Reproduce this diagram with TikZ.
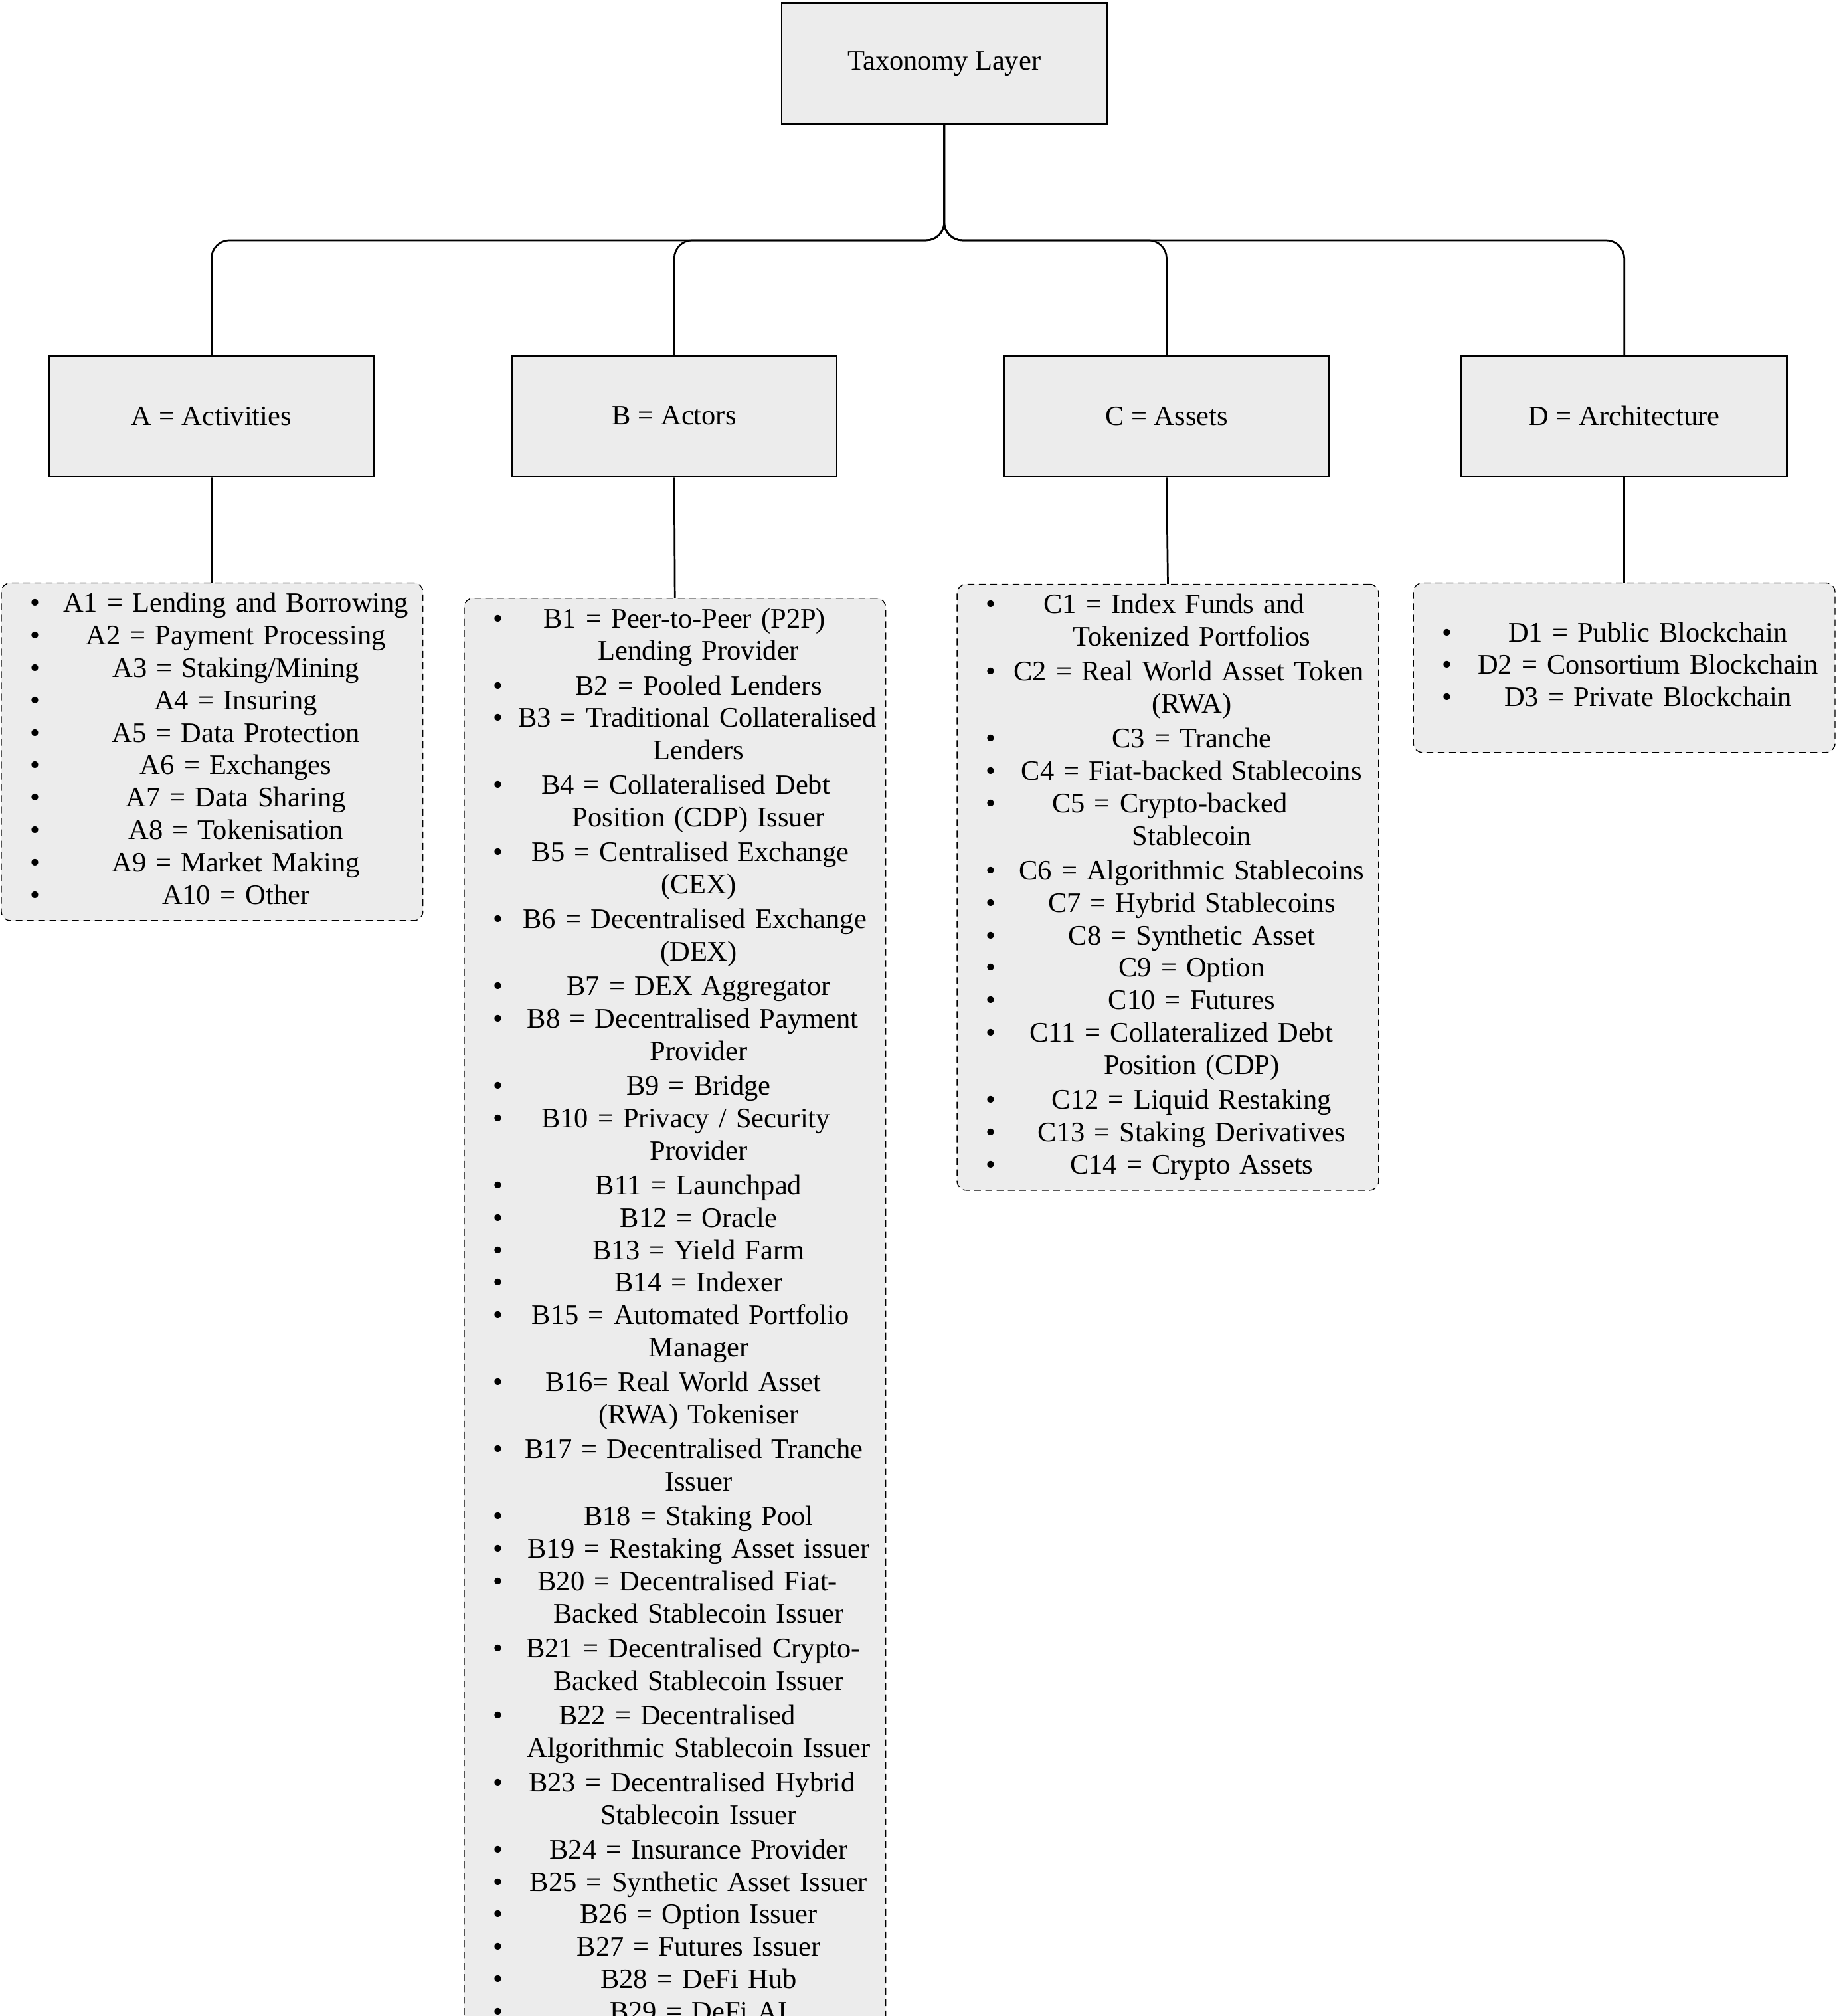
\documentclass[tikz,border=0pt]{standalone}
\usepackage{fontspec}
\setmainfont{Liberation Serif}
\usetikzlibrary{positioning}
\newcommand{\itm}[1]{\noindent\hspace*{0.45cm}\makebox[0.35cm][l]{\textbullet}\parbox[t]{5.7cm}{\centering\strut #1\strut}\par}
\newcommand{\brk}{\newline}

\begin{document}
\begin{tikzpicture}[x=0.02cm,y=-0.02cm,font=\fontsize{12.5}{14.35}\selectfont]
        \tikzstyle{layer}=[rectangle,draw,thick,fill=gray!15,minimum width=5.06cm,minimum height=1.88cm]
        \tikzstyle{items}=[rectangle,draw,densely dashed,rounded corners=4pt,fill=gray!15,inner xsep=0pt,inner ysep=3pt,anchor=north,text width=6.56cm]
        \tikzstyle{link}=[thick,rounded corners=8pt]
        \useasboundingbox (0,0) rectangle (1429,1568);

        \node [layer] (top) at (734.5,49.5) {Taxonomy Layer}; %root
        \node [layer] (act) at (164.5,323.5) {A = Activities};
        \node [layer] (act2) at (524.5,323.5) {B = Actors};
        \node [layer] (ass) at (907.5,323.5) {C = Assets};
        \node [layer] (arc) at (1263.5,323.5) {D = Architecture};

        \coordinate (bus) at (734.5,187);
        \draw [link] (top.south) -- (bus) -| (act.north);
        \draw [link] (top.south) -- (bus) -| (act2.north);
        \draw [link] (top.south) -- (bus) -| (ass.north);
        \draw [link] (top.south) -- (bus) -| (arc.north);

        \node [items] (la) at (165,453) {%
          \itm{A1 = Lending and Borrowing}
          \itm{A2 = Payment Processing}
          \itm{A3 = Staking/Mining}
          \itm{A4 = Insuring}
          \itm{A5 = Data Protection}
          \itm{A6 = Exchanges}
          \itm{A7 = Data Sharing}
          \itm{A8 = Tokenisation}
          \itm{A9 = Market Making}
          \itm{A10 = Other}};
        \node [items] (lb) at (525,465) {%
          \itm{B1 = Peer-to-Peer (P2P)\brk Lending Provider}
          \itm{B2 = Pooled Lenders}
          \itm{B3 = Traditional Collateralised\brk Lenders}
          \itm{B4 = Collateralised Debt\brk Position (CDP) Issuer}
          \itm{B5 = Centralised Exchange\brk (CEX)}
          \itm{B6 = Decentralised Exchange\brk (DEX)}
          \itm{B7 = DEX Aggregator}
          \itm{B8 = Decentralised Payment\brk Provider}
          \itm{B9 = Bridge}
          \itm{B10 = Privacy / Security\brk Provider}
          \itm{B11 = Launchpad}
          \itm{B12 = Oracle}
          \itm{B13 = Yield Farm}
          \itm{B14 = Indexer}
          \itm{B15 = Automated Portfolio\brk Manager}
          \itm{B16= Real World Asset\brk (RWA) Tokeniser}
          \itm{B17 = Decentralised Tranche\brk Issuer}
          \itm{B18 = Staking Pool}
          \itm{B19 = Restaking Asset issuer}
          \itm{B20 = Decentralised Fiat-\brk Backed Stablecoin Issuer}
          \itm{B21 = Decentralised Crypto-\brk Backed Stablecoin Issuer}
          \itm{B22 = Decentralised\brk Algorithmic Stablecoin Issuer}
          \itm{B23 = Decentralised Hybrid\brk Stablecoin Issuer}
          \itm{B24 = Insurance Provider}
          \itm{B25 = Synthetic Asset Issuer}
          \itm{B26 = Option Issuer}
          \itm{B27 = Futures Issuer}
          \itm{B28 = DeFi Hub}
          \itm{B29 = DeFi AI}};
        \node [items] (lc) at (908.5,454) {%
          \itm{C1 = Index Funds and\brk Tokenized Portfolios}
          \itm{C2 = Real World Asset Token\brk (RWA)}
          \itm{C3 = Tranche}
          \itm{C4 = Fiat-backed Stablecoins}
          \itm{C5 = Crypto-backed\brk Stablecoin}
          \itm{C6 = Algorithmic Stablecoins}
          \itm{C7 = Hybrid Stablecoins}
          \itm{C8 = Synthetic Asset}
          \itm{C9 = Option}
          \itm{C10 = Futures}
          \itm{C11 = Collateralized Debt\brk Position (CDP)}
          \itm{C12 = Liquid Restaking}
          \itm{C13 = Staking Derivatives}
          \itm{C14 = Crypto Assets}};
        \node [items,inner ysep=16pt] (ld) at (1263.5,453) {%
          \itm{D1 = Public Blockchain}
          \itm{D2 = Consortium Blockchain}
          \itm{D3 = Private Blockchain}};

        \draw [thick] (act.south) -- (la.north);
        \draw [thick] (act2.south) -- (lb.north);
        \draw [thick] (ass.south) -- (lc.north);
        \draw [thick] (arc.south) -- (ld.north);
\end{tikzpicture}
\end{document}
